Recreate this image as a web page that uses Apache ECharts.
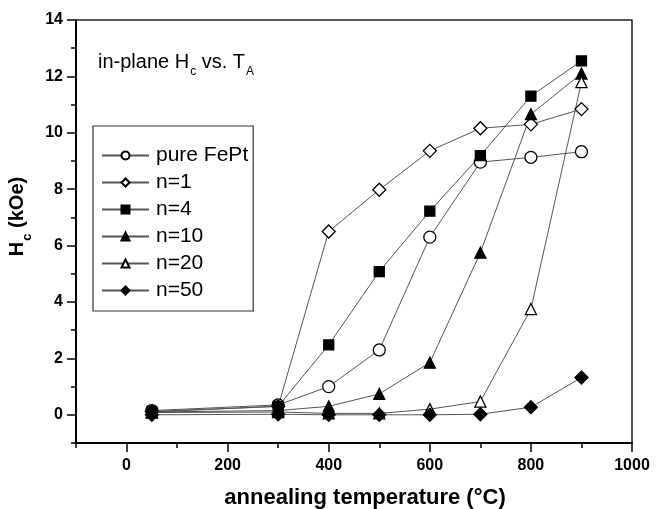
<!DOCTYPE html>
<html>
<head>
	<meta charset="utf-8">
	<title>in-plane Hc vs. TA</title>
	<script src="https://cdn.jsdelivr.net/npm/echarts@6/dist/echarts.min.js"></script>
	<style>
		html, body { margin: 0; padding: 0; background: #fff; }
		#main { width: 664px; height: 509px; }
	</style>
</head>
<body>
<div id="main"></div>
<script type="text/javascript">
// 退火温度 (°C)
var temps = [50, 300, 400, 500, 600, 700, 800, 900];
// Hc (kOe)
var pureFePt = [0.15, 0.35, 1.0, 2.3, 6.3, 8.96, 9.13, 9.33];
var n1 = [0.12, 0.3, 6.5, 7.98, 9.36, 10.16, 10.3, 10.84];
var n4 = [0.1, 0.3, 2.48, 5.08, 7.22, 9.19, 11.3, 12.55];
var n10 = [0.1, 0.15, 0.3, 0.74, 1.85, 5.75, 10.66, 12.1];
var n20 = [0.08, 0.1, 0.05, 0.05, 0.2, 0.47, 3.75, 11.8];
var n50 = [0.0, 0.02, 0.0, 0.0, 0.0, 0.02, 0.27, 1.32];
var seriesNames = ['pure FePt', 'n=1', 'n=4', 'n=10', 'n=20', 'n=50'];

function pairs(ys) {
	return temps.map(function (t, i) { return [t, ys[i]]; });
}

// 每条曲线: 数据, 符号, 大小, 填充
function makeSeries(name, ys, symbol, size, fill) {
	return {
		name: name,
		type: 'line',
		data: pairs(ys),
		symbol: symbol,
		symbolSize: size,
		showAllSymbol: true,
		lineStyle: { color: '#555', width: 1 },
		itemStyle: { color: fill, borderColor: '#000', borderWidth: 1.3 },
		emphasis: { disabled: true },
		animation: false
	};
}

var tickLine = { color: '#000', width: 1.5 };

// 主图区: x -100..1000, y -1..14
// 长刻度用两个透明的辅助 grid 画 (x 从 0 起, y 从 0 起)
var plotW = 664 - 76 - 32, plotH = 509 - 20 - 66;
var x0Left = 76 + plotW * 100 / 1100;
var y0Bottom = 66 + plotH * 1 / 15;

var myChart = echarts.init(document.getElementById('main'));

var option = {
	backgroundColor: '#fff',
	textStyle: { fontFamily: 'Liberation Sans, Arial, sans-serif' },
	grid: [{
		left: 76, top: 20, right: 32, bottom: 66,
		outerBoundsMode: 'none',
		show: true, borderColor: '#222', borderWidth: 1.5, backgroundColor: 'transparent'
	}, {
		left: x0Left, top: 20, right: 32, bottom: 66, outerBoundsMode: 'none'
	}, {
		left: 76, top: 20, right: 32, bottom: y0Bottom, outerBoundsMode: 'none'
	}],
	legend: {
		orient: 'vertical',
		left: 93, top: 126,
		data: seriesNames,
		itemWidth: 47,
		itemHeight: 10,
		itemGap: 6,
		padding: [19, 5, 10, 8],
		borderColor: '#333',
		borderWidth: 1.2,
		textStyle: { fontSize: 21, color: '#000', lineHeight: 20, padding: [0, 0, 0, 2] }
	},
	graphic: [{
		type: 'text',
		left: 98, top: 52,
		style: {
			text: '{n|in-plane H}{s|c}{n| vs. T}{s|A}',
			rich: {
				n: { fontSize: 20, lineHeight: 22, verticalAlign: 'top', fill: '#000' },
				s: { fontSize: 12, lineHeight: 12, verticalAlign: 'top', padding: [14, 0, 0, 1], fill: '#000' }
			}
		}
	}],
	xAxis: [{
		type: 'value',
		gridIndex: 0,
		min: -100, max: 1000, interval: 100,
		name: 'annealing temperature (°C)',
		nameLocation: 'middle',
		nameGap: 44,
		nameTextStyle: { fontSize: 22, fontWeight: 'bold', color: '#000', padding: [0, 0, 0, 22] },
		axisLine: { onZero: false, lineStyle: { color: '#000', width: 2 } },
		axisTick: { length: 5, lineStyle: tickLine },
		axisLabel: {
			fontSize: 16, fontWeight: 'bold', color: '#000', margin: 15,
			formatter: function (v) { return (v >= 0 && v % 200 === 0) ? String(v) : ''; }
		},
		splitLine: { show: false }
	}, {
		// 长刻度 0,200,...,1000
		type: 'value',
		gridIndex: 1,
		min: 0, max: 1000, interval: 200,
		axisLine: { show: false, onZero: false },
		axisTick: { show: true, length: 9, lineStyle: tickLine },
		axisLabel: { show: false },
		splitLine: { show: false }
	}, {
		type: 'value', gridIndex: 2, show: false, min: -100, max: 1000
	}],
	yAxis: [{
		type: 'value',
		gridIndex: 0,
		min: -1, max: 14, interval: 1,
		name: '{b|H}{s|c}{b| (kOe)}',
		nameLocation: 'middle',
		nameGap: 40,
		nameTextStyle: {
			padding: [0, 0, 0, 30],
			rich: {
				b: { fontSize: 20, fontWeight: 'bold', lineHeight: 24, verticalAlign: 'top', color: '#000' },
				s: { fontSize: 13, fontWeight: 'bold', lineHeight: 13, verticalAlign: 'top', padding: [14, 0, 0, 1], color: '#000' }
			}
		},
		axisLine: { onZero: false, lineStyle: { color: '#000', width: 2 } },
		axisTick: { length: 5, lineStyle: tickLine },
		axisLabel: {
			fontSize: 16, fontWeight: 'bold', color: '#000', margin: 13,
			formatter: function (v) { return (v >= 0 && v % 2 === 0) ? String(v) : ''; }
		},
		splitLine: { show: false }
	}, {
		type: 'value', gridIndex: 1, show: false, min: -1, max: 14
	}, {
		// 长刻度 0,2,...,14
		type: 'value',
		gridIndex: 2,
		min: 0, max: 14, interval: 2,
		axisLine: { show: false, onZero: false },
		axisTick: { show: true, length: 9, lineStyle: tickLine },
		axisLabel: { show: false },
		splitLine: { show: false }
	}],
	series: [
		makeSeries(seriesNames[0], pureFePt, 'circle', 12, '#fff'),
		makeSeries(seriesNames[1], n1, 'diamond', 13, '#fff'),
		makeSeries(seriesNames[2], n4, 'rect', 10, '#000'),
		makeSeries(seriesNames[3], n10, 'triangle', 11, '#000'),
		makeSeries(seriesNames[4], n20, 'triangle', 11, '#fff'),
		makeSeries(seriesNames[5], n50, 'diamond', 13, '#000')
	]
};

myChart.setOption(option);
</script>
</body>
</html>
